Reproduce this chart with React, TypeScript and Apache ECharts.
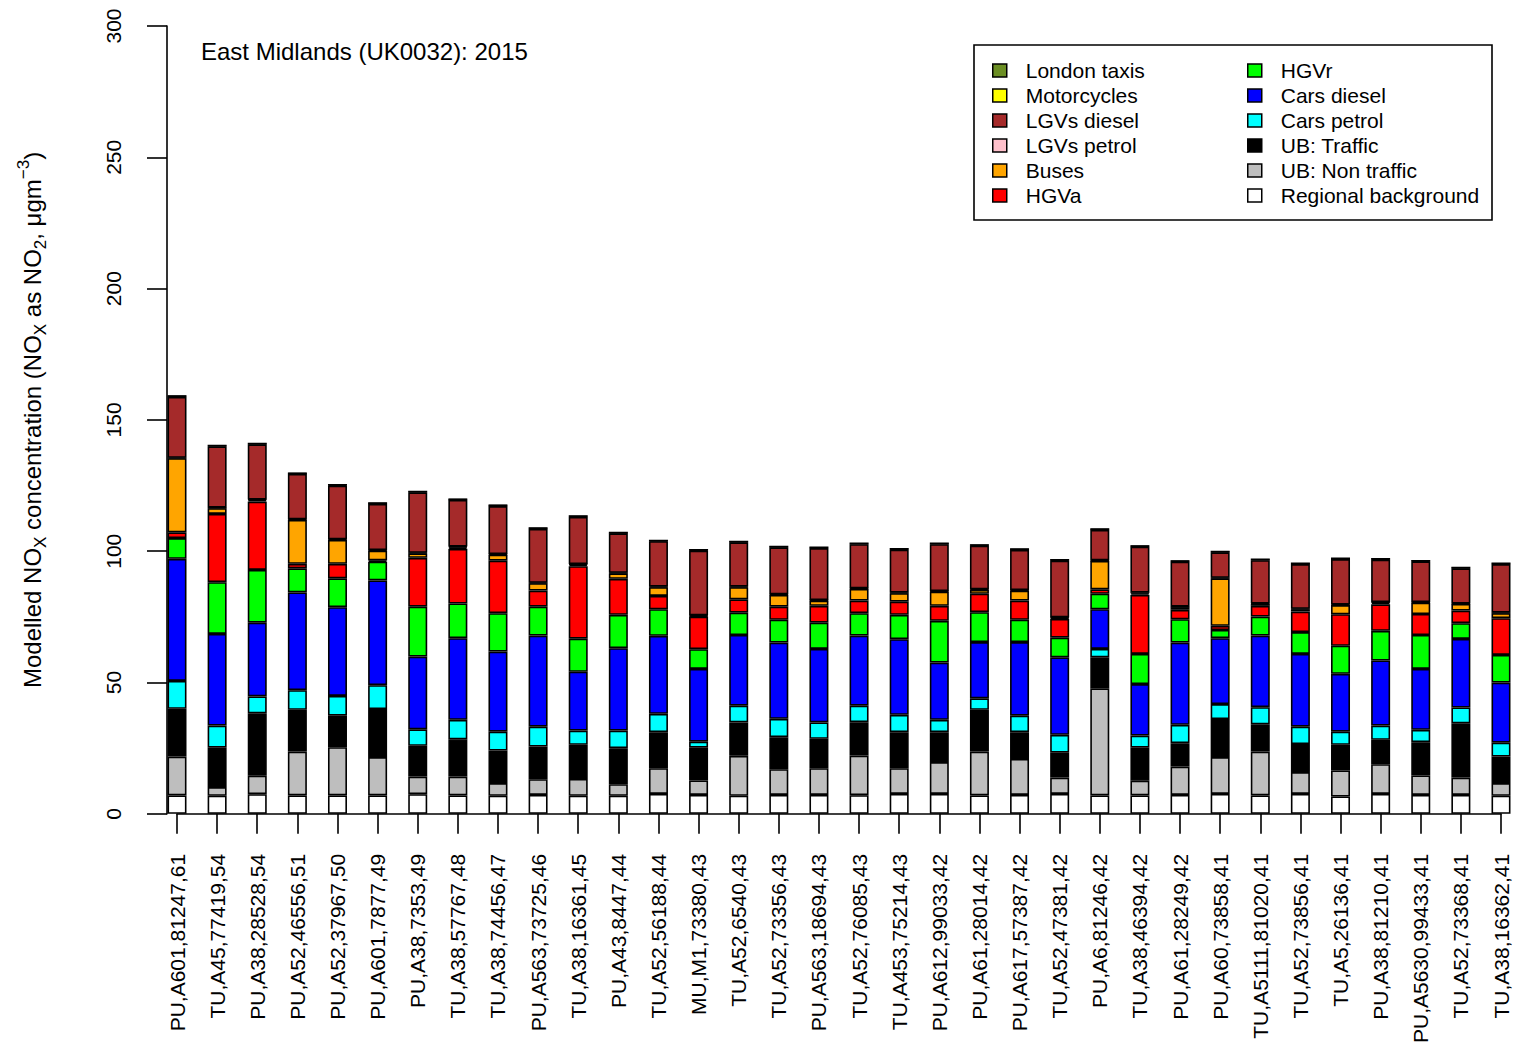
import React, { useEffect, useRef } from "react";
import * as echarts from "echarts";

const categories = [
  "PU,A601,81247,61", "TU,A45,77419,54", "PU,A38,28528,54", "PU,A52,46556,51",
  "PU,A52,37967,50", "PU,A601,7877,49", "PU,A38,7353,49", "TU,A38,57767,48",
  "TU,A38,74456,47", "PU,A563,73725,46", "TU,A38,16361,45", "PU,A43,8447,44",
  "TU,A52,56188,44", "MU,M1,73380,43", "TU,A52,6540,43", "TU,A52,73356,43",
  "PU,A563,18694,43", "TU,A52,76085,43", "TU,A453,75214,43", "PU,A612,99033,42",
  "PU,A61,28014,42", "PU,A617,57387,42", "TU,A52,47381,42", "PU,A6,81246,42",
  "TU,A38,46394,42", "PU,A61,28249,42", "PU,A60,73858,41", "TU,A5111,81020,41",
  "TU,A52,73856,41", "TU,A5,26136,41", "PU,A38,81210,41", "PU,A5630,99433,41",
  "TU,A52,73368,41", "TU,A38,16362,41",
];

// stacking order: bottom to top
const regionalBackground = [7.0, 6.9, 7.5, 7.0, 7.0, 7.0, 7.5, 7.0, 6.9, 7.2, 6.9, 6.9, 7.6, 7.2, 6.9, 7.2, 7.2, 7.1, 7.6, 7.6, 7.0, 7.2, 7.6, 7.0, 7.0, 7.2, 7.6, 7.0, 7.6, 6.6, 7.6, 7.2, 7.2, 6.9];
const ubNonTraffic = [14.8, 3.3, 7.0, 16.7, 18.4, 14.6, 6.7, 7.2, 4.8, 6.0, 6.4, 4.4, 9.8, 5.5, 15.2, 9.8, 10.2, 15.1, 9.8, 12.1, 16.7, 13.7, 6.2, 40.8, 5.6, 10.8, 14.0, 16.7, 8.3, 9.9, 11.3, 7.4, 6.6, 4.8];
const ubTraffic = [18.2, 15.0, 23.8, 15.9, 12.0, 18.3, 11.7, 14.2, 12.4, 12.4, 13.0, 13.7, 13.7, 12.5, 12.7, 12.2, 11.2, 12.7, 13.7, 11.4, 15.9, 10.2, 9.5, 11.8, 12.6, 8.9, 14.5, 10.4, 10.7, 9.8, 9.3, 12.7, 20.7, 10.1];
const carsPetrol = [10.6, 8.4, 6.4, 7.5, 7.5, 9.1, 6.3, 7.4, 7.2, 7.6, 5.4, 6.7, 7.0, 2.3, 6.4, 7.0, 6.2, 6.3, 6.6, 4.7, 4.4, 6.3, 6.8, 3.2, 4.6, 7.0, 5.7, 6.5, 6.6, 5.0, 5.4, 4.7, 6.0, 5.3];
const carsDiesel = [46.5, 34.9, 28.1, 37.2, 33.8, 39.9, 27.7, 31.1, 30.5, 34.7, 22.4, 31.4, 29.7, 27.7, 26.9, 29.0, 28.0, 26.7, 28.8, 21.8, 21.4, 28.0, 29.5, 15.1, 19.6, 31.3, 25.1, 27.3, 27.7, 22.0, 24.8, 23.2, 26.1, 22.9];
const hgvRigid = [7.9, 19.7, 20.1, 9.2, 11.0, 7.1, 19.0, 13.2, 14.6, 11.0, 12.6, 12.7, 10.1, 7.5, 8.5, 8.7, 10.0, 8.5, 9.3, 15.9, 11.4, 8.5, 7.5, 5.9, 11.5, 8.9, 3.1, 7.2, 8.3, 10.7, 11.3, 12.9, 6.0, 10.5];
const hgvArtic = [2.2, 26.0, 26.0, 1.7, 5.5, 0.5, 18.6, 20.8, 20.0, 6.1, 27.6, 13.7, 5.1, 12.4, 5.1, 5.0, 6.4, 4.8, 5.0, 5.7, 7.0, 7.3, 7.1, 1.7, 22.5, 3.6, 1.6, 4.1, 7.8, 12.0, 10.1, 8.0, 4.8, 14.0];
const buses = [28.2, 2.2, 0.6, 16.7, 9.1, 3.7, 1.7, 0.6, 2.3, 2.8, 0.6, 2.1, 3.3, 0.3, 4.6, 4.5, 2.0, 4.5, 3.2, 5.4, 1.5, 3.8, 0.4, 10.8, 0.6, 1.0, 18.1, 0.7, 0.9, 3.5, 0.6, 4.3, 2.5, 1.9];
const lgvsPetrol = [0.2, 0.2, 0.2, 0.2, 0.2, 0.2, 0.2, 0.3, 0.2, 0.2, 0.2, 0.2, 0.2, 0.2, 0.2, 0.2, 0.2, 0.2, 0.2, 0.2, 0.2, 0.2, 0.2, 0.2, 0.2, 0.2, 0.2, 0.2, 0.2, 0.2, 0.2, 0.2, 0.2, 0.2];
const lgvsDiesel = [23.2, 23.3, 21.0, 17.3, 20.5, 17.6, 23.0, 17.7, 18.3, 20.5, 18.0, 15.0, 17.3, 24.6, 16.9, 17.9, 19.8, 16.8, 16.4, 17.9, 16.6, 15.3, 21.6, 11.6, 17.5, 17.1, 9.7, 16.5, 17.0, 17.3, 16.2, 15.5, 13.4, 18.5];
const motorcycles = [0.3, 0.3, 0.3, 0.3, 0.3, 0.3, 0.3, 0.3, 0.3, 0.3, 0.3, 0.3, 0.3, 0.3, 0.3, 0.3, 0.3, 0.3, 0.3, 0.3, 0.3, 0.3, 0.3, 0.3, 0.3, 0.3, 0.3, 0.3, 0.3, 0.3, 0.3, 0.3, 0.3, 0.3];
const londonTaxis = [0, 0, 0, 0, 0, 0, 0, 0, 0, 0, 0, 0, 0, 0, 0, 0, 0, 0, 0, 0, 0, 0, 0, 0, 0, 0, 0, 0, 0, 0, 0, 0, 0, 0];

const yTicks = { min: 0, max: 300, interval: 50 };

const seriesDefs = [
  { name: "Regional background", data: regionalBackground, color: "#FFFFFF" },
  { name: "UB: Non traffic", data: ubNonTraffic, color: "#BEBEBE" },
  { name: "UB: Traffic", data: ubTraffic, color: "#000000" },
  { name: "Cars petrol", data: carsPetrol, color: "#00FFFF" },
  { name: "Cars diesel", data: carsDiesel, color: "#0000FF" },
  { name: "HGVr", data: hgvRigid, color: "#00FF00" },
  { name: "HGVa", data: hgvArtic, color: "#FF0000" },
  { name: "Buses", data: buses, color: "#FFA500" },
  { name: "LGVs petrol", data: lgvsPetrol, color: "#FFC0CB" },
  { name: "LGVs diesel", data: lgvsDiesel, color: "#A52A2A" },
  { name: "Motorcycles", data: motorcycles, color: "#FFFF00" },
  { name: "London taxis", data: londonTaxis, color: "#6B8E23" },
];

const legendCol1 = ["London taxis", "Motorcycles", "LGVs diesel", "LGVs petrol", "Buses", "HGVa"];
const legendCol2 = ["HGVr", "Cars diesel", "Cars petrol", "UB: Traffic", "UB: Non traffic", "Regional background"];

export default function App() {
  const ref = useRef<HTMLDivElement>(null);
  useEffect(() => {
    const chart = echarts.init(ref.current!, null, { renderer: "svg" });
    const font = "'Liberation Sans', Arial, Helvetica, sans-serif";
    const legendBase = {
      orient: "vertical",
      top: 60,
      padding: 0,
      itemWidth: 14,
      itemHeight: 13,
      itemGap: 4,
      icon: "rect",
      selectedMode: false,
      itemStyle: { borderColor: "#000", borderWidth: 1.5 },
      textStyle: { fontSize: 21, lineHeight: 21, color: "#000", fontFamily: font, padding: [0, 0, 0, 14] },
    };
    chart.setOption({
      animation: false,
      backgroundColor: "#ffffff",
      textStyle: { fontFamily: font },
      title: {
        text: "East Midlands (UK0032): 2015",
        left: 201,
        top: 39,
        padding: 0,
        textStyle: { fontSize: 24, lineHeight: 24, fontWeight: "normal", color: "#000", fontFamily: font },
      },
      grid: { left: 177, right: 12, top: 26, bottom: 232 },
      xAxis: {
        type: "category",
        data: categories,
        boundaryGap: false,
        axisLine: { show: true, lineStyle: { color: "#000", width: 1.6 } },
        axisTick: { show: true, length: 20, interval: 0, lineStyle: { color: "#000", width: 1.6 } },
        axisLabel: { interval: 0, rotate: 90, margin: 40, fontSize: 21, color: "#000", fontFamily: font },
        splitLine: { show: false },
      },
      yAxis: {
        type: "value",
        min: yTicks.min,
        max: yTicks.max,
        interval: yTicks.interval,
        offset: 10,
        axisLine: { show: true, lineStyle: { color: "#000", width: 1.6 } },
        axisTick: { show: true, length: 20, lineStyle: { color: "#000", width: 1.6 } },
        axisLabel: { rotate: 90, margin: 43, fontSize: 21, lineHeight: 21, color: "#000", fontFamily: font },
        splitLine: { show: false },
        name: "Modelled NO{sub|X} concentration (NO{sub|X} as NO{sub|2}, μgm{sup|−3})",
        nameLocation: "middle",
        nameRotate: 90,
        nameGap: 118,
        nameTextStyle: {
          fontSize: 24,
          lineHeight: 34,
          color: "#000",
          fontFamily: font,
          rich: {
            sub: { fontSize: 17, lineHeight: 17, verticalAlign: "bottom", color: "#000", fontFamily: font },
            sup: { fontSize: 17, lineHeight: 17, verticalAlign: "top", color: "#000", fontFamily: font },
          },
        },
      },
      legend: [
        { ...legendBase, left: 992, data: legendCol1 },
        { ...legendBase, left: 1247, data: legendCol2 },
      ],
      graphic: [
        {
          type: "rect",
          shape: { x: 974, y: 45, width: 518, height: 175 },
          style: { fill: "none", stroke: "#000", lineWidth: 1.6 },
          z: 100,
        },
      ],
      series: seriesDefs.map((s) => ({
        type: "bar",
        name: s.name,
        stack: "total",
        data: s.data,
        barWidth: 19,
        clip: false,
        itemStyle: { color: s.color, borderColor: "#000", borderWidth: 1.6 },
        emphasis: { disabled: true },
      })),
    });
    return () => chart.dispose();
  }, []);
  return <div ref={ref} style={{ position: "fixed", left: 0, top: 0, width: 1513, height: 1046 }} />;
}
